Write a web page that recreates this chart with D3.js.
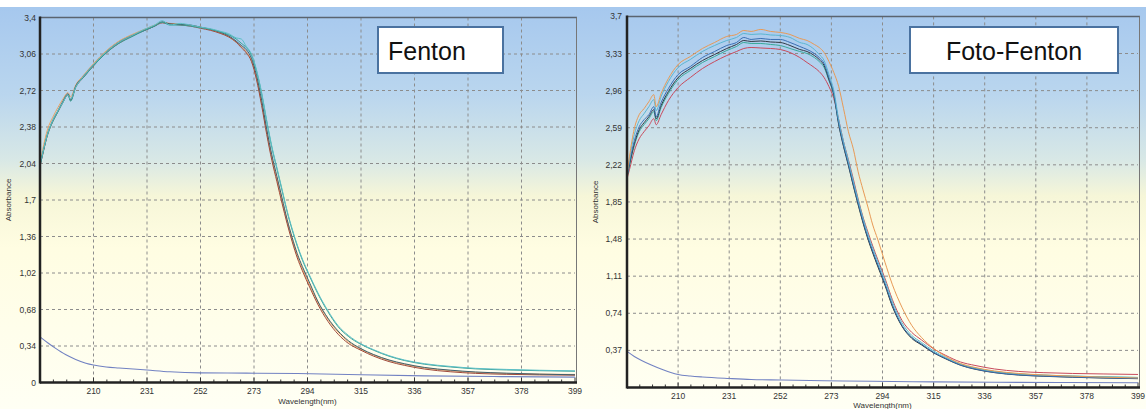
<!DOCTYPE html>
<html>
<head>
<meta charset="utf-8">
<script src="https://cdn.jsdelivr.net/npm/d3@7"></script>
<style>
  body { margin: 0; background: #fff; }
  svg { display: block; }
  text { font-family: "Liberation Sans", Arial, sans-serif; }
</style>
</head>
<body>
<div id="chart"></div>
<script>

// wavelengths (nm) shared by the spectra
var wl = [189,190,192,194,196,198,200,201,203,206, 210,215,220,225,230,234,237,240,244,248,
          252,256,260,263,266,268,270,272,274,276, 278,280,282,284,286,288,290,292,295,298,
          302,306,310,315,320,326,332,340,350,360, 372,385,399];
var wlBase = [189,192,195,199,203,207,210,215,220,231,240,252,270,290,315,340,370,399];

var xTicks = [210,231,252,273,294,315,336,357,378,399];

// Fenton panel
var fentonTicks = [0,0.34,0.68,1.02,1.36,1.7,2.04,2.38,2.72,3.06,3.4];
var fentonLabels = ['0','0,34','0,68','1,02','1,36','1,7','2,04','2,38','2,72','3,06','3,4'];

var fentonDark = [2.02,2.12,2.32,2.44,2.53,2.62,2.69,2.63,2.76,2.85, 2.96,3.08,3.17,3.23,3.28,3.32,3.36,3.34,3.335,3.33,
  3.31,3.29,3.26,3.23,3.18,3.14,3.10,3.02,2.86,2.63, 2.36,2.12,1.92,1.72,1.52,1.35,1.20,1.08,0.92,0.76,
  0.60,0.48,0.39,0.315,0.26,0.21,0.175,0.14,0.115,0.098, 0.087,0.078,0.072];
var fentonOrange = [2.03,2.16,2.36,2.47,2.56,2.64,2.70,2.66,2.77,2.86, 2.97,3.09,3.18,3.24,3.29,3.33,3.355,3.345,3.34,3.325,
  3.31,3.285,3.255,3.22,3.17,3.13,3.08,3.00,2.83,2.60, 2.33,2.09,1.89,1.69,1.50,1.33,1.18,1.06,0.90,0.75,
  0.59,0.47,0.38,0.31,0.255,0.205,0.17,0.135,0.11,0.094, 0.084,0.078,0.075];
var fentonTeal = [2.02,2.13,2.31,2.43,2.52,2.61,2.68,2.62,2.75,2.84, 2.95,3.07,3.16,3.22,3.28,3.32,3.355,3.33,3.33,3.32,
  3.305,3.29,3.265,3.24,3.20,3.16,3.12,3.05,2.90,2.69, 2.43,2.19,1.99,1.79,1.59,1.42,1.27,1.14,0.98,0.83,
  0.66,0.52,0.43,0.355,0.30,0.245,0.205,0.17,0.145,0.127, 0.117,0.110,0.105];
var fentonCyan = [2.02,2.13,2.32,2.44,2.53,2.61,2.68,2.64,2.75,2.85, 2.96,3.08,3.17,3.23,3.29,3.33,3.37,3.33,3.345,3.33,
  3.31,3.295,3.27,3.25,3.21,3.20,3.13,3.06,2.91,2.70, 2.44,2.20,2.00,1.80,1.60,1.43,1.28,1.15,0.99,0.84,
  0.67,0.53,0.44,0.36,0.305,0.25,0.21,0.175,0.15,0.132, 0.122,0.114,0.108];
var fentonBrown = [2.02,2.12,2.31,2.43,2.52,2.61,2.68,2.63,2.75,2.84, 2.95,3.07,3.16,3.225,3.28,3.32,3.35,3.34,3.33,3.32,
  3.30,3.28,3.25,3.22,3.17,3.12,3.07,2.99,2.82,2.58, 2.31,2.07,1.87,1.67,1.48,1.31,1.16,1.04,0.88,0.73,
  0.57,0.45,0.365,0.30,0.245,0.195,0.16,0.125,0.10,0.085, 0.076,0.071,0.068];
var fentonBlank = [0.425,0.37,0.32,0.26,0.215,0.18,0.163,0.145,0.135,0.116,0.10,0.09,0.087,0.084,0.072,0.062,0.055,0.05];

// Foto-Fenton panel
var fotoTicks = [0.37,0.74,1.11,1.48,1.85,2.22,2.59,2.96,3.33,3.7];
var fotoLabels = ['0,37','0,74','1,11','1,48','1,85','2,22','2,59','2,96','3,33','3,7'];

var fotoOrange = [2.12,2.30,2.58,2.72,2.78,2.85,2.92,2.80,2.93,3.08, 3.22,3.30,3.38,3.44,3.50,3.52,3.56,3.55,3.57,3.55,
  3.54,3.52,3.48,3.46,3.42,3.39,3.34,3.25,3.14,3.00, 2.78,2.55,2.38,2.15,1.97,1.80,1.62,1.48,1.25,1.03,
  0.80,0.62,0.50,0.39,0.31,0.24,0.20,0.165,0.14,0.125, 0.113,0.103,0.095];
var fotoCyan = [2.11,2.27,2.52,2.66,2.73,2.80,2.87,2.76,2.90,3.05, 3.19,3.27,3.35,3.41,3.46,3.49,3.53,3.52,3.525,3.515,
  3.51,3.49,3.44,3.42,3.37,3.32,3.26,3.12,2.96,2.67, 2.45,2.26,2.06,1.87,1.69,1.53,1.39,1.26,1.07,0.86,
  0.645,0.52,0.45,0.365,0.30,0.235,0.195,0.16,0.136,0.124, 0.114,0.106,0.10];
var fotoBlue = [2.10,2.24,2.46,2.60,2.67,2.72,2.80,2.70,2.84,2.98, 3.12,3.20,3.29,3.35,3.41,3.44,3.49,3.47,3.48,3.47,
  3.47,3.44,3.40,3.37,3.33,3.29,3.23,3.09,2.93,2.64, 2.42,2.23,2.03,1.84,1.66,1.50,1.36,1.23,1.04,0.83,
  0.62,0.50,0.435,0.35,0.29,0.225,0.185,0.15,0.126,0.114, 0.104,0.096,0.09];
var fotoDark = [2.10,2.22,2.43,2.57,2.64,2.70,2.77,2.68,2.81,2.95, 3.09,3.18,3.26,3.32,3.38,3.42,3.46,3.45,3.455,3.445,
  3.44,3.41,3.37,3.35,3.31,3.27,3.21,3.07,2.92,2.62, 2.40,2.21,2.01,1.82,1.64,1.48,1.34,1.21,1.02,0.81,
  0.61,0.49,0.425,0.345,0.285,0.222,0.182,0.148,0.124,0.112, 0.102,0.094,0.088];
var fotoTeal = [2.09,2.21,2.41,2.55,2.62,2.68,2.75,2.66,2.79,2.93, 3.07,3.16,3.24,3.30,3.36,3.40,3.44,3.43,3.43,3.42,
  3.41,3.38,3.35,3.33,3.29,3.25,3.19,3.06,2.91,2.63, 2.41,2.22,2.02,1.83,1.65,1.49,1.35,1.22,1.03,0.82,
  0.615,0.50,0.43,0.35,0.29,0.228,0.19,0.157,0.134,0.122, 0.113,0.106,0.10];
var fotoRed = [2.08,2.17,2.36,2.48,2.55,2.61,2.68,2.62,2.72,2.86, 2.99,3.09,3.18,3.25,3.31,3.35,3.38,3.39,3.385,3.38,
  3.37,3.34,3.29,3.24,3.19,3.15,3.09,3.00,2.88,2.67, 2.45,2.27,2.08,1.88,1.70,1.55,1.41,1.28,1.09,0.88,
  0.67,0.55,0.475,0.385,0.32,0.255,0.22,0.185,0.16,0.148, 0.14,0.135,0.13];
var fotoBlank = [0.36,0.31,0.27,0.225,0.185,0.15,0.13,0.115,0.105,0.09,0.08,0.075,0.068,0.062,0.056,0.052,0.05,0.048];

var panels = [
  { name: 'Fenton', bx: 0, bw: 584, left: 40, right: 575, top: 17.5, bottom: 382.5, ymax: 3.4,
    ticks: fentonTicks, labels: fentonLabels, labelX: 36, xlabY: 394, titleY: 404,
    box: [378, 27, 125, 46], textX: 388, textAnchor: 'start',
    series: [
      { v: fentonOrange, c: '#e8a263' },
      { v: fentonBrown, c: '#a04a3c' },
      { v: fentonDark, c: '#3e5f6e' },
      { v: fentonTeal, c: '#379f94' },
      { v: fentonCyan, c: '#5cbfc6' }
    ],
    blank: fentonBlank },
  { name: 'Foto-Fenton', bx: 584, bw: 562, left: 627, right: 1138, top: 16.4, bottom: 387.5, ymax: 3.7,
    ticks: fotoTicks, labels: fotoLabels, labelX: 622, xlabY: 399, titleY: 408,
    box: [910, 27, 208, 46], textX: 1014, textAnchor: 'middle',
    series: [
      { v: fotoRed, c: '#c84a5c' },
      { v: fotoTeal, c: '#39a99a' },
      { v: fotoDark, c: '#333a44' },
      { v: fotoBlue, c: '#3a6fb4' },
      { v: fotoCyan, c: '#5ab6d2' },
      { v: fotoOrange, c: '#e89a56' }
    ],
    blank: fotoBlank }
];

var svg = d3.select('#chart').append('svg')
    .attr('width', 1146)
    .attr('height', 409)
    .style('background', '#fff');

var grad = svg.append('defs').append('linearGradient')
    .attr('id', 'bg')
    .attr('x1', 0).attr('y1', 0).attr('x2', 0).attr('y2', 1);
[[0, '#a6c8ee'], [0.22, '#bad6ee'], [0.38, '#d8e8e6'], [0.47, '#f6f6d8'], [0.6, '#fffde2'], [1, '#fffff4']]
  .forEach(function(s) {
    grad.append('stop').attr('offset', s[0]).attr('stop-color', s[1]);
  });

panels.forEach(drawPanel);

function drawPanel(p) {
  var g = svg.append('g');

  g.append('rect')
      .attr('x', p.bx)
      .attr('y', 7)
      .attr('width', p.bw)
      .attr('height', 402)
      .style('fill', 'url(#bg)');

  var x = d3.scaleLinear().domain([189, 399]).range([p.left, p.right]);
  var y = d3.scaleLinear().domain([0, p.ymax]).range([p.bottom, p.top]);

  // dashed grid
  g.selectAll('.vgrid').data(xTicks.slice(0, -1)).enter().append('line')
      .attr('x1', d => x(d)).attr('x2', d => x(d))
      .attr('y1', p.top).attr('y2', p.bottom)
      .attr('stroke', '#8c8c8c')
      .attr('stroke-dasharray', '3,3');

  g.selectAll('.hgrid').data(p.ticks.filter(d => d > 0 && d < p.ymax)).enter().append('line')
      .attr('x1', p.left).attr('x2', p.right)
      .attr('y1', d => y(d)).attr('y2', d => y(d))
      .attr('stroke', '#8c8c8c')
      .attr('stroke-dasharray', '3,3');

  // frame
  g.append('line')
      .attr('x1', p.left).attr('x2', p.right + 2)
      .attr('y1', p.top).attr('y2', p.top)
      .attr('stroke', '#5a6470').style('stroke-width', 1.5);
  g.append('line')
      .attr('x1', p.right + 1.5).attr('x2', p.right + 1.5)
      .attr('y1', p.top).attr('y2', p.bottom)
      .attr('stroke', '#777').style('stroke-width', 1);

  // x ticks, minor every quarter division
  var minor = d3.range(0, 41).map(i => 189 + i * 5.25);
  g.selectAll('.tick').data(minor).enter().append('line')
      .attr('x1', d => x(d)).attr('x2', d => x(d))
      .attr('y1', p.bottom).attr('y2', (d, i) => p.bottom - (i % 4 === 0 ? 5 : 3))
      .attr('stroke', '#333');

  // y tick labels
  g.selectAll('.ylab').data(p.ticks).enter().append('text')
      .attr('x', p.labelX)
      .attr('y', d => y(d) + 3)
      .attr('text-anchor', 'end')
      .style('font-size', '8.5px')
      .style('fill', '#333')
      .text((d, i) => p.labels[i]);

  g.selectAll('.xlab').data(xTicks).enter().append('text')
      .attr('x', d => x(d))
      .attr('y', p.xlabY)
      .attr('text-anchor', 'middle')
      .style('font-size', '8.5px')
      .style('fill', '#333')
      .text(d => d);

  g.append('text')
      .attr('x', (p.left + p.right) / 2)
      .attr('y', p.titleY)
      .attr('text-anchor', 'middle')
      .style('font-size', '8px')
      .style('fill', '#333')
      .text('Wavelength(nm)');

  g.append('text')
      .attr('transform', 'translate(' + (p.left - 29) + ',' + ((p.top + p.bottom) / 2) + ') rotate(-90)')
      .attr('text-anchor', 'middle')
      .style('font-size', '8px')
      .style('fill', '#333')
      .text('Absorbance');

  // spectra
  var line = d3.line()
      .x((d, i) => x(wl[i]))
      .y(d => y(d))
      .curve(d3.curveMonotoneX);

  g.selectAll('.spec').data(p.series).enter().append('path')
      .attr('d', d => line(d.v))
      .attr('fill', 'none')
      .attr('stroke', d => d.c)
      .style('stroke-width', 1);

  var baseLine = d3.line()
      .x((d, i) => x(wlBase[i]))
      .y(d => y(d))
      .curve(d3.curveMonotoneX);

  g.append('path')
      .attr('d', baseLine(p.blank))
      .attr('fill', 'none')
      .attr('stroke', '#7282c2')
      .style('stroke-width', 1.1);

  // axes
  g.append('line')
      .attr('x1', p.left).attr('x2', p.left)
      .attr('y1', p.top - 1).attr('y2', p.bottom + 1)
      .attr('stroke', '#222').style('stroke-width', 2.5);
  g.append('line')
      .attr('x1', p.left).attr('x2', p.right + 2)
      .attr('y1', p.bottom).attr('y2', p.bottom)
      .attr('stroke', '#222').style('stroke-width', 2.5);

  // label box
  g.append('rect')
      .attr('x', p.box[0]).attr('y', p.box[1])
      .attr('width', p.box[2]).attr('height', p.box[3])
      .style('fill', '#fff')
      .attr('stroke', '#4a72a0')
      .style('stroke-width', 2);

  g.append('text')
      .attr('x', p.textX)
      .attr('y', p.box[1] + 33)
      .attr('text-anchor', p.textAnchor)
      .style('font-size', '25px')
      .style('fill', '#111')
      .text(p.name);
}

</script>
</body>
</html>
